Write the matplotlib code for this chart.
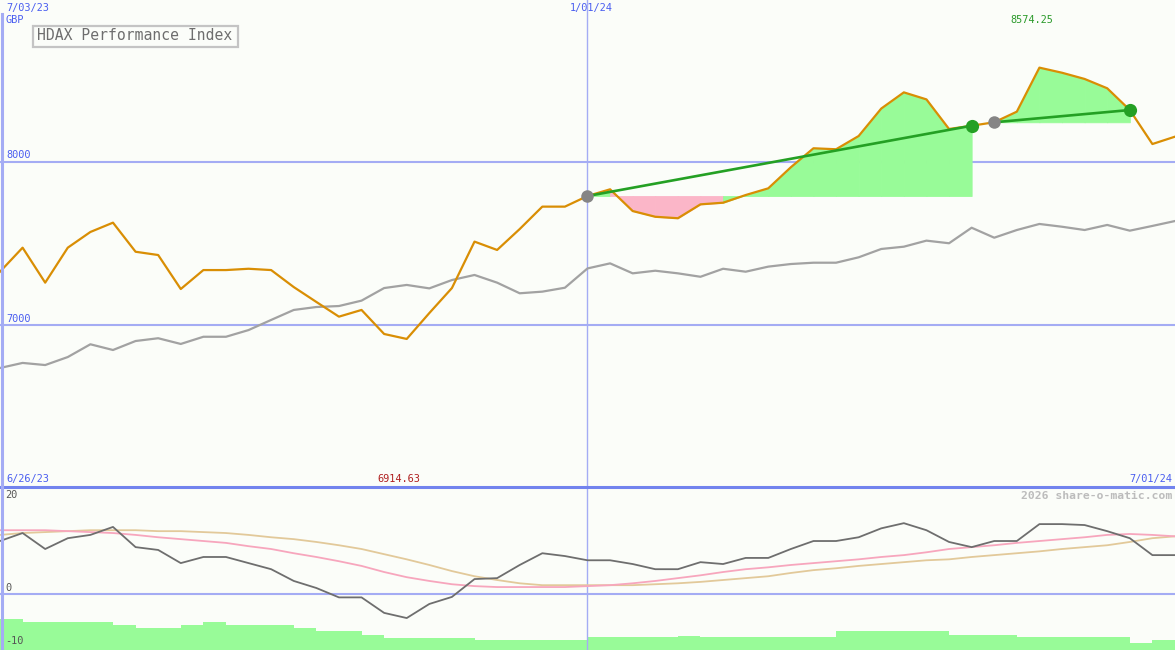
import matplotlib
matplotlib.use("Agg")
import matplotlib.pyplot as plt
from matplotlib.patches import Rectangle
from matplotlib.lines import Line2D
import pandas as pd

W, H = 1175, 650

# weekly closes, 7/03/23 .. 7/01/24
dates = pd.date_range("2023-07-03", periods=53, freq="7D")

price = [7326, 7473, 7259, 7473, 7569, 7626, 7448, 7428, 7220, 7336,
         7336, 7344, 7336, 7232, 7141, 7051, 7092, 6945, 6914.63, 7073,
         7226, 7510, 7459, 7587, 7724, 7724, 7789, 7830, 7697, 7662,
         7653, 7738, 7748, 7795, 7836, 7965, 8081, 8075, 8156, 8324,
         8423, 8380, 8199, 8219, 8240, 8305, 8574.25, 8543, 8505, 8448,
         8315, 8107, 8152]

# comparison index (grey line), rebased
compare = [6737, 6768, 6755, 6804, 6882, 6847, 6902, 6919, 6884, 6928,
           6928, 6969, 7031, 7092, 7110, 7116, 7149, 7226, 7245, 7224,
           7275, 7306, 7259, 7194, 7204, 7228, 7346, 7377, 7316, 7332,
           7316, 7295, 7344, 7326, 7357, 7373, 7381, 7381, 7414, 7465,
           7479, 7516, 7500, 7595, 7534, 7581, 7618, 7601, 7581, 7612,
           7577, 7606, 7636]

# lower panel oscillator + its two averages
momentum = [11.3, 13.0, 9.6, 11.9, 12.6, 14.3, 10.0, 9.4, 6.6, 7.9,
            7.9, 6.6, 5.3, 2.8, 1.3, -0.7, -0.7, -4.0, -5.1, -2.1,
            -0.6, 3.2, 3.4, 6.2, 8.7, 8.1, 7.2, 7.2, 6.4, 5.3,
            5.3, 6.8, 6.4, 7.7, 7.7, 9.6, 11.3, 11.3, 12.1, 14.0,
            15.1, 13.6, 11.1, 10.0, 11.3, 11.3, 14.9, 14.9, 14.7, 13.4,
            11.9, 8.3, 8.3]
avg_fast = [13.6, 13.6, 13.6, 13.4, 13.2, 13.0, 12.6, 12.1, 11.7, 11.3,
            10.9, 10.2, 9.6, 8.7, 7.9, 7.0, 6.0, 4.7, 3.6, 2.8,
            2.1, 1.7, 1.5, 1.5, 1.5, 1.5, 1.7, 1.9, 2.3, 2.8,
            3.4, 4.0, 4.7, 5.3, 5.7, 6.2, 6.6, 7.0, 7.4, 7.9,
            8.3, 8.9, 9.6, 10.0, 10.4, 10.9, 11.3, 11.7, 12.1, 12.6,
            12.8, 12.6, 12.3]
avg_slow = [12.6, 13.0, 13.2, 13.4, 13.6, 13.6, 13.6, 13.4, 13.4, 13.2,
            13.0, 12.6, 12.1, 11.7, 11.1, 10.4, 9.6, 8.5, 7.4, 6.2,
            4.9, 3.8, 3.0, 2.3, 1.9, 1.9, 1.9, 1.9, 1.9, 2.1,
            2.3, 2.6, 3.0, 3.4, 3.8, 4.5, 5.1, 5.5, 6.0, 6.4,
            6.8, 7.2, 7.4, 7.9, 8.3, 8.7, 9.1, 9.6, 10.0, 10.4,
            11.1, 11.9, 12.3]

# weekly volume bars (arbitrary units)
volume = [31, 28, 28, 28, 28, 25, 22, 22, 25, 28,
          25, 25, 25, 22, 19, 19, 15, 12, 12, 12,
          12, 10, 10, 10, 10, 10, 13, 13, 13, 13,
          14, 13, 13, 13, 13, 13, 13, 19, 19, 19,
          19, 19, 15, 15, 15, 13, 13, 13, 13, 13,
          7, 10]

# trades as (entry week, exit week)
trades = [(26, 43), (44, 50)]

BG = "#fbfdf9"
GRID = "#a4acf4"
BLUE_TXT = "#4a5ef0"
FONT = "DejaVu Sans Mono"

fig = plt.figure(figsize=(W / 100, H / 100), dpi=100, facecolor=BG)


def px(x, y):
    # pixel position -> figure fraction
    return x / W, 1 - y / H


split = 487
ax = fig.add_axes([0, 1 - split / H, 1, split / H])
ax2 = fig.add_axes([0, 0, 1, 1 - split / H])
for a in (ax, ax2):
    a.set_axis_off()
    a.set_xlim(dates[0], dates[-1])

ax.set_ylim(6009, 8988)
ax2.set_ylim(-11.9, 22.8)

# grid lines
for lvl in (8000, 7000):
    ax.axhline(lvl, color=GRID, lw=1.5, zorder=1)
ax2.axhline(0, color=GRID, lw=1.5, zorder=1)
ax.axvline(dates[26], color=GRID, lw=1, zorder=1)
ax2.axvline(dates[26], color=GRID, lw=1, zorder=1)

# trade shading: green when week closes above entry, pink otherwise
for entry, exit_ in trades:
    level = price[entry]
    for i in range(entry, exit_):
        col = "#98fb98" if price[i + 1] >= level else "#fbb6c8"
        ax.fill_between(dates[i:i + 2], price[i:i + 2], level,
                        facecolor=col, edgecolor=col, lw=0.6, zorder=2)

ax.plot(dates, compare, color="#a2a2a2", lw=1.6, zorder=3)
ax.plot(dates, price, color="#d98e04", lw=1.6, zorder=4)

for entry, exit_ in trades:
    ax.plot([dates[entry], dates[exit_]], [price[entry], price[exit_]],
            color="#24a024", lw=1.9, zorder=5)
    ax.plot(dates[entry], price[entry], "o", ms=9, color="#858585",
            mec="none", zorder=6)
    ax.plot(dates[exit_], price[exit_], "o", ms=9.5, color="#24a024",
            mec="none", zorder=6)

# lower panel
axv = ax2.twinx()
axv.set_axis_off()
axv.set_ylim(0, 163)
axv.bar(dates[:-1], volume, width=7, align="edge", color="#98fb98",
        lw=0, zorder=1)
ax2.set_zorder(axv.get_zorder() + 1)
ax2.patch.set_visible(False)
ax2.plot(dates, avg_slow, color="#e2c99a", lw=1.3, zorder=3)
ax2.plot(dates, avg_fast, color="#f7a6bd", lw=1.3, zorder=3)
ax2.plot(dates, momentum, color="#6e6e6e", lw=1.3, zorder=4)

# frame lines
fig.add_artist(Line2D([0, 1], [1 - split / H] * 2, color="#7283ee", lw=2.2))
fig.add_artist(Line2D([1.5 / W] * 2, [0, 1 - 14 / H], color=GRID, lw=2.2))

# labels
small = dict(family=FONT, fontsize=7.4, va="center")
fig.text(*px(6, 8), "7/03/23", color=BLUE_TXT, **small)
fig.text(*px(5, 20), "GBP", color=BLUE_TXT, **small)
fig.text(*px(591, 8), "1/01/24", color=BLUE_TXT, ha="center", **small)
fig.text(*px(6, 155), "8000", color=BLUE_TXT, **small)
fig.text(*px(6, 319), "7000", color=BLUE_TXT, **small)
fig.text(*px(6, 479), "6/26/23", color=BLUE_TXT, **small)
fig.text(*px(1172, 479), "7/01/24", color=BLUE_TXT, ha="right", **small)
fig.text(*px(5, 495), "20", color="#555555", **small)
fig.text(*px(5, 588), "0", color="#555555", **small)
fig.text(*px(5, 641), "-10", color="#555555", **small)
fig.text(*px(1172, 496), "2026 share-o-matic.com", color="#bcbcbc",
         ha="right", family=FONT, fontsize=8.2, fontweight="bold", va="center")

imax = price.index(max(price))
imin = price.index(min(price))
ax.annotate(f"{max(price):.2f}", xy=(dates[imax], 0), xycoords=("data", "figure pixels"),
            xytext=(-8, H - 20), textcoords=("offset pixels", "figure pixels"),
            color="#2a9a2a", ha="center", **small)
ax.annotate(f"{min(price):.2f}", xy=(dates[imin], 0), xycoords=("data", "figure pixels"),
            xytext=(-8, H - 479), textcoords=("offset pixels", "figure pixels"),
            color="#b02020", ha="center", **small)

# title box
fig.add_artist(Rectangle(px(33, 47), 205 / W, 21 / H, transform=fig.transFigure,
                         fill=False, edgecolor="#c4c4c4", lw=1.6))
fig.text(*px(37, 36), "HDAX Performance Index", color="#6e6e6e",
         family=FONT, fontsize=10.6, va="center")

fig.savefig("out.png", dpi=100, facecolor=BG)
